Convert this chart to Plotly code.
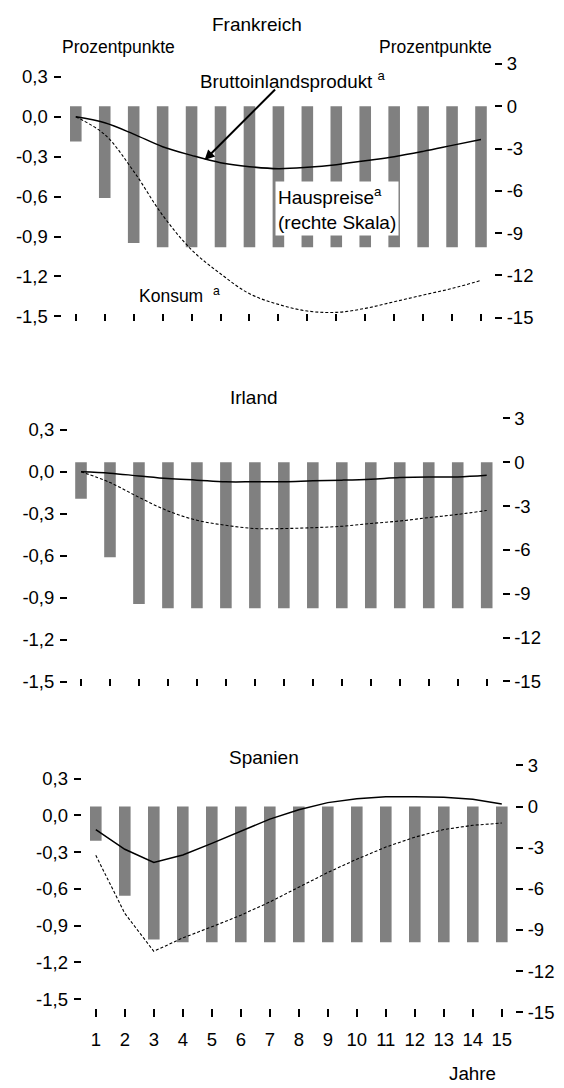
import plotly.graph_objects as go

# ---------------- data ----------------
years = list(range(1, 16))
year_labels = [str(y) for y in years]

left_tickvals = [0.3, 0.0, -0.3, -0.6, -0.9, -1.2, -1.5]
left_ticktext = ["0,3", "0,0", "-0,3", "-0,6", "-0,9", "-1,2", "-1,5"]
right_tickvals = [3, 0, -3, -6, -9, -12, -15]
right_ticktext = ["3", "0", "-3", "-6", "-9", "-12", "-15"]

# House prices (right scale), same shock in all three countries
hauspreise_fr = [-2.5, -6.5, -9.7, -10, -10, -10, -10, -10, -10, -10, -10, -10, -10, -10, -10]
hauspreise_ie = [-2.5, -6.5, -9.7, -10, -10, -10, -10, -10, -10, -10, -10, -10, -10, -10, -10]
hauspreise_es = [-2.5, -6.5, -9.7, -9.9, -9.9, -9.9, -9.9, -9.9, -9.9, -9.9, -9.9, -9.9, -9.9, -9.9, -9.9]

# GDP (left scale)
bip_fr = [0.0, -0.045, -0.13, -0.225, -0.29, -0.345, -0.375, -0.39, -0.38, -0.36, -0.33, -0.30, -0.26, -0.215, -0.17]
bip_ie = [0.0, -0.01, -0.03, -0.049, -0.06, -0.072, -0.072, -0.072, -0.065, -0.06, -0.053, -0.042, -0.037, -0.037, -0.025]
bip_es = [-0.116, -0.277, -0.385, -0.323, -0.229, -0.13, -0.031, 0.045, 0.104, 0.136, 0.152, 0.152, 0.147, 0.131, 0.093]

# Consumption (left scale)
konsum_fr = [0.0, -0.134, -0.41, -0.74, -1.0, -1.18, -1.33, -1.41, -1.46, -1.47, -1.44, -1.39, -1.34, -1.29, -1.23]
konsum_ie = [0.0, -0.077, -0.183, -0.28, -0.347, -0.383, -0.406, -0.406, -0.40, -0.39, -0.37, -0.352, -0.328, -0.305, -0.277]
konsum_es = [-0.326, -0.80, -1.11, -1.0, -0.91, -0.815, -0.707, -0.587, -0.466, -0.358, -0.259, -0.178, -0.116, -0.081, -0.063]

# ---------------- layout geometry (pixels) ----------------
W, H = 564, 1088
FONT = "Liberation Sans, Arial, sans-serif"
FS = 17.5        # small labels
FS_TICK = 18.5   # tick labels
FS_TITLE = 19    # panel titles / inline labels
GREY = "#808080"

panels = [
    dict(name="Frankreich", xl=61.5, xr=494, c1=75.8, c15=481, ytop=48, ybot=318.5,
         lc=111.2, lk=134.8, rc=100.6, rk=14.28, tlen=7, shape="spline",
         bars=hauspreise_fr, bip=bip_fr, kon=konsum_fr, title_x=257, title_y=18, labels=False),
    dict(name="Irland", xl=68, xr=501.5, c1=81, c15=486.7, ytop=408, ybot=687.5,
         lc=470.8, lk=141.7, rc=461.1, rk=14.81, tlen=7, shape="spline",
         bars=hauspreise_ie, bip=bip_ie, kon=konsum_ie, title_x=254, title_y=396, labels=False),
    dict(name="Spanien", xl=81.7, xr=515, c1=95.8, c15=501.8, ytop=765, ybot=1023.3,
         lc=818.9, lk=124.1, rc=810, rk=13.89, tlen=8, shape="linear",
         bars=hauspreise_es, bip=bip_es, kon=konsum_es, title_x=264, title_y=760, labels=True),
]


def fx(p):
    return p / W


def fy(p):
    return 1 - p / H


fig = go.Figure()
layout = dict(
    width=W, height=H, autosize=False,
    margin=dict(l=0, r=0, t=0, b=0),
    paper_bgcolor="white", plot_bgcolor="rgba(0,0,0,0)",
    showlegend=False,
    font=dict(family=FONT, size=FS, color="black"),
)
annotations = []

for i, p in enumerate(panels):
    n = i + 1
    xa = "x" if n == 1 else f"x{n}"
    yb = 2 * i + 1          # base axis: bars, right side
    yl = 2 * i + 2          # overlay axis: lines, left side
    ybn = "y" if yb == 1 else f"y{yb}"
    yln = f"y{yl}"
    s = (p["c15"] - p["c1"]) / 14.0
    xr0 = 1 - (p["c1"] - p["xl"]) / s
    xr1 = 15 + (p["xr"] - p["c15"]) / s
    dom_y = [fy(p["ybot"]), fy(p["ytop"])]

    layout["xaxis" if n == 1 else f"xaxis{n}"] = dict(
        domain=[fx(p["xl"]), fx(p["xr"])], range=[xr0, xr1], anchor=ybn,
        tickmode="array", tickvals=years, ticktext=year_labels,
        showticklabels=p["labels"], ticks="inside", ticklen=p["tlen"], tickwidth=2,
        tickcolor="black", showgrid=False, zeroline=False, showline=False,
        ticklabelstandoff=9, tickfont=dict(size=FS_TICK), fixedrange=True,
    )
    layout["yaxis" if yb == 1 else f"yaxis{yb}"] = dict(
        domain=dom_y, anchor=xa, side="right",
        range=[(p["rc"] - p["ybot"]) / p["rk"], (p["rc"] - p["ytop"]) / p["rk"]],
        tickmode="array", tickvals=right_tickvals, ticktext=right_ticktext,
        ticks="outside", ticklen=7, tickwidth=2, tickcolor="black",
        showgrid=False, zeroline=False, showline=False, fixedrange=True,
        tickfont=dict(size=FS_TICK), ticklabelstandoff=1,
    )
    layout[f"yaxis{yl}"] = dict(
        overlaying=ybn, anchor=xa, side="left",
        range=[(p["lc"] - p["ybot"]) / p["lk"], (p["lc"] - p["ytop"]) / p["lk"]],
        tickmode="array", tickvals=left_tickvals, ticktext=left_ticktext,
        ticks="outside", ticklen=7, tickwidth=2, tickcolor="black",
        showgrid=False, zeroline=False, showline=False, fixedrange=True,
        tickfont=dict(size=FS_TICK), ticklabelstandoff=2,
    )

    fig.add_trace(go.Bar(x=years, y=p["bars"], xaxis=xa, yaxis=ybn,
                         marker=dict(color=GREY, line=dict(width=0)), width=0.4,
                         hoverinfo="skip"))
    fig.add_trace(go.Scatter(x=years, y=p["bip"], xaxis=xa, yaxis=yln, mode="lines",
                             line=dict(color="black", width=1.5, shape=p["shape"]),
                             hoverinfo="skip"))
    fig.add_trace(go.Scatter(x=years, y=p["kon"], xaxis=xa, yaxis=yln, mode="lines",
                             line=dict(color="black", width=1.1, dash="3px,2px", shape=p["shape"]),
                             hoverinfo="skip"))

    annotations.append(dict(text=p["name"], xref="paper", yref="paper",
                            x=fx(p["title_x"]), y=fy(p["title_y"]), xanchor="center",
                            yanchor="middle", showarrow=False, font=dict(size=FS_TITLE)))

# Frankreich panel labels
annotations += [
    dict(text="Prozentpunkte", xref="paper", yref="paper", x=fx(60), y=fy(41),
         xanchor="left", yanchor="middle", showarrow=False),
    dict(text="Prozentpunkte", xref="paper", yref="paper", x=fx(494), y=fy(41),
         xanchor="right", yanchor="middle", showarrow=False),
    dict(text="Bruttoinlandsprodukt <sup>a</sup>", xref="paper", yref="paper",
         x=fx(198), y=fy(74), xanchor="left", yanchor="middle", showarrow=False,
         font=dict(size=18.8)),
    dict(text="", xref="x", yref="y2", x=5.45, y=-0.325, ax=72, ay=-72,
         showarrow=True, arrowhead=2, arrowsize=1, arrowwidth=2, arrowcolor="black"),
    dict(text="Hauspreise<sup>a</sup><br>(rechte Skala)", xref="paper", yref="paper",
         x=fx(275), y=fy(204), xanchor="left", yanchor="middle", align="left",
         showarrow=False, bgcolor="white", borderpad=2, font=dict(size=FS_TITLE)),
    dict(text="Konsum  <sup>a</sup>", xref="paper", yref="paper",
         x=fx(137), y=fy(292), xanchor="left", yanchor="middle", showarrow=False),
    dict(text="Jahre", xref="paper", yref="paper", x=fx(472), y=fy(1080),
         xanchor="center", yanchor="middle", showarrow=False, font=dict(size=18.8)),
]

layout["annotations"] = annotations
fig.update_layout(**layout)
fig.write_html(
    "out.html",
    config={"displayModeBar": False, "staticPlot": True},
    post_script="document.body.style.margin='0';document.body.style.padding='0';",
)
